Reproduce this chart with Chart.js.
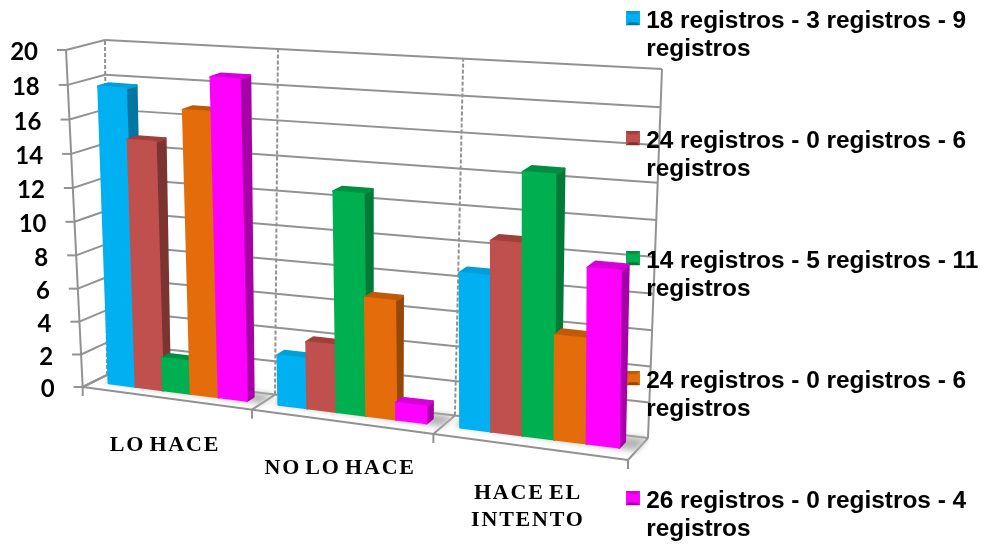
<!DOCTYPE html>
<html>
<head>
<meta charset="utf-8">
<script src="https://cdn.jsdelivr.net/npm/chart.js@4/dist/chart.umd.js"></script>
<style>
	html, body { margin: 0; padding: 0; background: #fff; }
	canvas { display: block; }
</style>
</head>
<body>
<canvas id="chart" width="987" height="546"></canvas>
<script>
const categories = ['LO HACE', 'NO LO HACE', ['HACE EL', 'INTENTO']];
const seriesNames = [
	['18 registros - 3 registros - 9', 'registros'],
	['24 registros - 0 registros - 6', 'registros'],
	['14 registros - 5 registros - 11', 'registros'],
	['24 registros - 0 registros - 6', 'registros'],
	['26 registros - 0 registros - 4', 'registros']
];
const blueValues = [18, 3, 9];
const redValues = [15, 4, 11];
const greenValues = [2, 13, 15];
const orangeValues = [17, 7, 6];
const magentaValues = [19, 1, 10];
const seriesValues = [blueValues, redValues, greenValues, orangeValues, magentaValues];

// front, side, top colours of each series
const frontColors = ['#00B0F0', '#C0504D', '#00B050', '#E46C0A', '#FF00FF'];
const sideColors = ['#0076A3', '#7C3432', '#007A37', '#974806', '#A800A8'];
const topColors = ['#009FD9', '#A03F3C', '#008F41', '#C05A08', '#D800D8'];

// corners of the 3d box on screen: [x, y]
const box = {
	frontBottomLeft: [82.7, 387], frontBottomRight: [628, 460],
	frontTopLeft: [66, 50], frontTopRight: [626, 92],
	backBottomLeft: [107, 375], backBottomRight: [648, 438],
	backTopLeft: [105, 40], backTopRight: [662, 69]
};
const perspective = 1.11;
const perspectiveUp = 1.04;
const barDepthFront = 0.46;
const barDepthBack = 0.74;
const barLean = 0.06;
const barBevel = 0.985;
const gridColor = '#929292';

function mix(a, b, t) {
	return [a[0] + (b[0] - a[0]) * t, a[1] + (b[1] - a[1]) * t];
}

// u along the categories, v up the value axis, d into the picture, all 0..1
function project(u, v, d) {
	let w = u / (u + perspective * (1 - u));
	let h = v / (v + perspectiveUp * (1 - v));
	let fb = mix(box.frontBottomLeft, box.frontBottomRight, w);
	let ft = mix(box.frontTopLeft, box.frontTopRight, w);
	let bb = mix(box.backBottomLeft, box.backBottomRight, w);
	let bt = mix(box.backTopLeft, box.backTopRight, w);
	return mix(mix(fb, ft, h), mix(bb, bt, h), d);
}

function poly(ctx, points) {
	ctx.beginPath();
	points.forEach((p, i) => i ? ctx.lineTo(p[0], p[1]) : ctx.moveTo(p[0], p[1]));
	ctx.closePath();
}

function line(ctx, a, b) {
	ctx.beginPath();
	ctx.moveTo(a[0], a[1]);
	ctx.lineTo(b[0], b[1]);
	ctx.stroke();
}

// extra empty rows under the 14px square lift it to the first text line
function makeSwatch(front, side, top) {
	let c = document.createElement('canvas');
	c.width = 14;
	c.height = 20;
	let g = c.getContext('2d');
	g.fillStyle = top;
	g.fillRect(0, 0, 14, 14);
	g.fillStyle = side;
	poly(g, [[0, 14], [14, 14], [7, 7]]);
	g.fill();
	g.fillStyle = front;
	poly(g, [[0, 0], [0, 14], [7, 7]]);
	g.fill();
	poly(g, [[14, 0], [14, 14], [7, 7]]);
	g.fill();
	g.fillRect(3, 3, 8, 8);
	return c;
}

const swatches = frontColors.map((col, i) => makeSwatch(col, sideColors[i], topColors[i]));

const box3d = {
	id: 'box3d',
	beforeDraw(chart) {
		let ctx = chart.ctx;
		let xs = chart.scales.x;
		let ys = chart.scales.y;
		let area = chart.chartArea;
		ctx.save();
		ctx.fillStyle = '#fff';
		ctx.fillRect(0, 0, chart.width, chart.height);
		ctx.strokeStyle = gridColor;
		ctx.lineWidth = 2;

		// dashed back verticals
		ctx.setLineDash([4, 2]);
		[0, 1 / 3, 2 / 3].forEach(u => line(ctx, project(u, 0, 1), project(u, 1, 1)));
		ctx.setLineDash([]);

		// value grid on side and back wall
		ctx.textAlign = 'right';
		ctx.textBaseline = 'middle';
		ctx.font = 'bold 24px Lato';
		ys.ticks.forEach((tick, i) => {
			let v = (area.bottom - ys.getPixelForTick(i)) / area.height;
			let a = project(0, v, 0);
			line(ctx, a, project(0, v, 1));
			line(ctx, project(0, v, 1), project(1, v, 1));
			line(ctx, [a[0] - 9, a[1]], a);
			ctx.fillStyle = '#000';
			ctx.fillText(tick.label, a[0] - 28, a[1] + 2.5);
		});

		// walls and floor
		line(ctx, project(0, 0, 0), project(0, 1, 0));
		line(ctx, project(1, 0, 1), project(1, 1, 1));
		line(ctx, project(0, 0, 0), project(1, 0, 0));
		[0, 1 / 3, 2 / 3, 1].forEach(u => {
			let a = project(u, 0, 0);
			line(ctx, a, project(u, 0, 1));
			line(ctx, a, [a[0], a[1] + 9]);
		});

		// category labels under the sloped floor
		ctx.textAlign = 'center';
		ctx.font = 'bold 22px "Liberation Serif"';
		ctx.letterSpacing = '1.8px';
		ctx.wordSpacing = '-3px';
		ctx.fillStyle = '#000';
		xs.ticks.forEach((tick, i) => {
			let u = (xs.getPixelForTick(i) - area.left) / area.width;
			let a = project(u, 0, 0);
			[].concat(categories[i]).forEach((txt, k) => {
				ctx.fillText(txt, a[0] - 1, a[1] + 47 + k * 27);
			});
		});
		ctx.restore();
	},
	// the library's flat rectangles are replaced by the projected ones
	beforeDatasetDraw() {
		return false;
	},
	afterDatasetsDraw(chart) {
		let ctx = chart.ctx;
		let area = chart.chartArea;
		let toU = px => (px - area.left) / area.width;
		let toV = py => (area.bottom - py) / area.height;
		let metas = chart.data.datasets.map((ds, i) => chart.getDatasetMeta(i));

		ctx.save();
		categories.forEach((cat, c) => {
			// soft shadow on the floor
			let first = metas[0].data[c];
			let last = metas[metas.length - 1].data[c];
			let su0 = toU(first.x - first.width / 2) - 0.012;
			let su1 = toU(last.x + last.width / 2) + 0.03;
			ctx.save();
			ctx.filter = 'blur(3px)';
			ctx.fillStyle = '#b5b5b5';
			poly(ctx, [project(su0, 0, barDepthFront + 0.05), project(su1, 0, barDepthFront - 0.05),
				project(su1, 0, 0.98), project(su0, 0, 0.98)]);
			ctx.fill();
			ctx.restore();

			metas.forEach((meta, s) => {
				let el = meta.data[c];
				let u0 = toU(el.x - el.width / 2);
				let u1 = toU(el.x + el.width / 2);
				let v0 = toV(el.base);
				let v1 = toV(el.y) * barBevel;
				let d0 = barDepthFront;
				let d1 = barDepthBack;
				let top0 = d0 - barLean * v1;
				let top1 = d1 - barLean * v1;
				ctx.lineJoin = 'round';
				ctx.lineWidth = 2.5;

				ctx.fillStyle = ctx.strokeStyle = sideColors[s];
				poly(ctx, [project(u1, v0, d0), project(u1, v0, d1), project(u1, v1, top1), project(u1, v1, top0)]);
				ctx.fill();
				ctx.stroke();

				ctx.fillStyle = ctx.strokeStyle = topColors[s];
				poly(ctx, [project(u0, v1, top0), project(u1, v1, top0), project(u1, v1, top1), project(u0, v1, top1)]);
				ctx.fill();
				ctx.stroke();

				ctx.fillStyle = ctx.strokeStyle = frontColors[s];
				ctx.lineWidth = 2;
				poly(ctx, [project(u0, v0, d0), project(u1, v0, d0), project(u1, v1, top0), project(u0, v1, top0)]);
				ctx.fill();
				ctx.stroke();
			});
		});
		ctx.restore();
	}
};

const chart = new Chart(document.getElementById('chart'), {
	type: 'bar',
	data: {
		labels: categories,
		datasets: seriesValues.map((vals, i) => ({
			label: seriesNames[i].join(' '),
			data: vals,
			backgroundColor: frontColors[i],
			categoryPercentage: 0.82,
			barPercentage: 1
		}))
	},
	options: {
		responsive: false,
		animation: false,
		plugins: {
			tooltip: { enabled: false },
			legend: {
				position: 'right',
				align: 'start',
				maxWidth: 364,
				labels: {
					usePointStyle: true,
					boxWidth: 2,
					boxHeight: 26,
					padding: 9,
					color: '#000',
					font: { family: '"Liberation Sans"', size: 24.4, weight: 'bold', lineHeight: 1.1373 },
					// blank lines keep the five entries spread down the full height
					generateLabels: (ch) => ch.data.datasets.map((ds, i) => ({
						text: i < seriesNames.length - 1 ? seriesNames[i].concat(['', '']) : seriesNames[i],
						pointStyle: swatches[i],
						fillStyle: ds.backgroundColor,
						lineWidth: 0,
						hidden: false,
						datasetIndex: i
					}))
				}
			}
		},
		scales: {
			x: {
				display: false,
				ticks: { autoSkip: false }
			},
			y: {
				display: false,
				min: 0,
				max: 20,
				ticks: { stepSize: 2 }
			}
		}
	},
	plugins: [box3d]
});
</script>
</body>
</html>
